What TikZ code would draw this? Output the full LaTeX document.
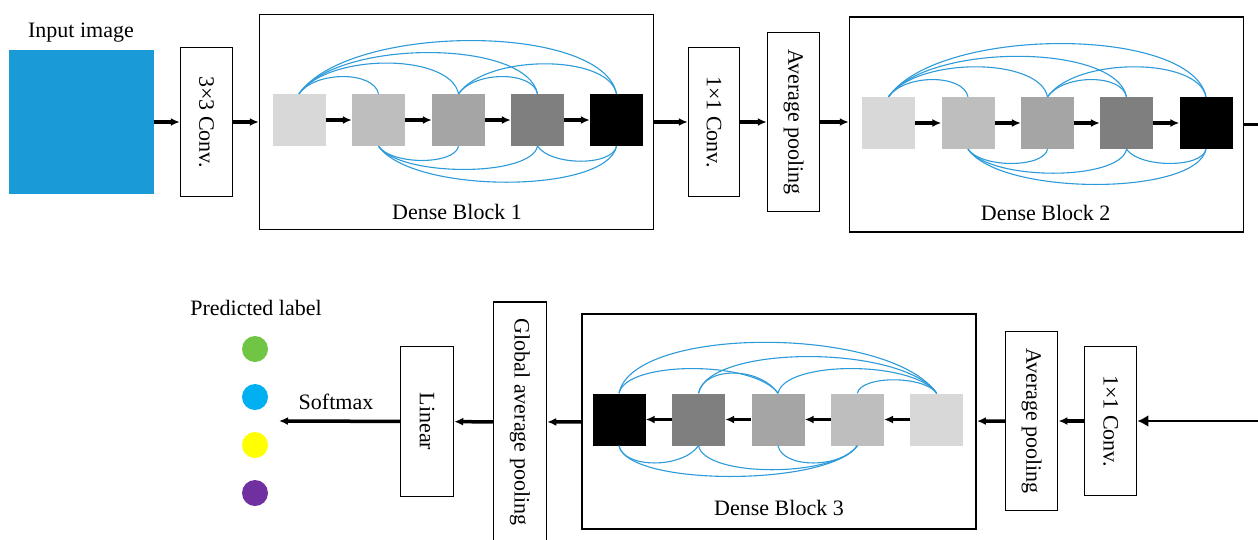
\documentclass[tikz,border=0pt]{standalone}
\usepackage{fontspec}
\setmainfont{Liberation Serif}
\usetikzlibrary{arrows.meta}
\definecolor{inblue}{RGB}{26,154,214}
\definecolor{arcblue}{RGB}{45,155,218}
\definecolor{ga}{RGB}{216,216,216}
\definecolor{gb}{RGB}{190,190,190}
\definecolor{gc}{RGB}{165,165,165}
\definecolor{gd}{RGB}{127,127,127}
\definecolor{cgreen}{RGB}{112,198,68}
\definecolor{ccyan}{RGB}{0,176,240}
\definecolor{cyell}{RGB}{255,255,0}
\definecolor{cpurp}{RGB}{112,48,160}
% #1 node prefix, #2 direction (+1 right, -1 left), #3 list s/t/h
\newcommand{\toparcs}[3]{%
  \foreach \s/\t/\h in {#3}
    \draw[link] (#1\s.north) .. controls +({#2*0.7*\h},-\h) and +({-#2*0.2*\h},-\h) .. (#1\t.north);}
\newcommand{\botarcs}[3]{%
  \foreach \s/\t/\h in {#3}
    \draw[link] (#1\s.south) .. controls +({#2*0.7*\h},\h) and +({-#2*0.2*\h},\h) .. (#1\t.south);}
\begin{document}
\begin{tikzpicture}[x=1pt,y=-1pt,
  font=\fontsize{22}{26}\selectfont,
  box/.style={draw=black,line width=1.5pt,inner sep=0pt,fill=white},
  blk/.style={box,minimum width=394pt,minimum height=215pt},
  sq/.style={inner sep=0pt,minimum width=53pt,minimum height=52pt},
  arr/.style={line width=3.5pt,-{Latex[length=9pt,width=8pt]}},
  arrbig/.style={line width=2pt,-{Latex[length=11pt,width=12pt]}},
  plain/.style={line width=3.5pt},
  link/.style={draw=arcblue,line width=1.1pt},
  dot/.style={circle,inner sep=0pt,minimum size=26pt},
  txt/.style={inner sep=0pt}]
\useasboundingbox (0,0) rectangle (1258,539);

% ---------- top row ----------
\node[txt] (intext) at (81,33) {Input image};
\node[fill=inblue,inner sep=0pt,minimum width=145pt,minimum height=144pt] (inp) at (81.5,122) {};
\node[box,minimum width=52pt,minimum height=149pt] (conva) at (206.5,122) {\rotatebox{-90}{3×3 Conv.}};
\node[blk] (dba) at (456.5,122) {};
\node[txt] (dbalab) at (457,212) {Dense Block 1};
\node[box,minimum width=51pt,minimum height=149pt] (convb) at (714,122) {\rotatebox{-90}{1×1 Conv.}};
\node[box,minimum width=52pt,minimum height=179pt] (poola) at (793.5,122) {\rotatebox{-90}{Average pooling}};
\node[blk] (dbb) at (1046.5,124.5) {};
\node[txt] (dbblab) at (1045.7,213) {Dense Block 2};
\coordinate (rout) at (1264,124.5);

\foreach \i/\x/\c in {1/299/ga,2/378.5/gb,3/458.5/gc,4/537.5/gd,5/616.5/black}
  \node[sq,fill=\c] (a\i) at (\x,120) {};
\foreach \i/\x/\c in {1/888.5/ga,2/968/gb,3/1047.5/gc,4/1126.5/gd,5/1206/black}
  \node[sq,fill=\c] (b\i) at (\x,123) {};

\foreach \i/\j in {1/2,2/3,3/4,4/5} {
  \draw[arr] (a\i) -- (a\j);
  \draw[arr] (b\i) -- (b\j);
}
\toparcs{a}{1}{1/2/23,1/3/41,1/4/55,1/5/71,3/4/23,3/5/40}
\botarcs{a}{1}{2/3/19,2/4/31,2/5/48,4/5/20}
\toparcs{b}{1}{1/2/23,1/3/40,1/4/54,1/5/71,3/4/23,3/5/40}
\botarcs{b}{1}{2/3/19,2/4/32,2/5/47,4/5/19}

\draw[arr] (inp) -- (conva);
\draw[arr] (conva) -- (dba);
\draw[arr] (dba) -- (convb);
\draw[arr] (convb) -- (poola);
\draw[arr] (poola.east) -- (poola.east -| dbb.west);
\draw[plain] (dbb.east) -- (rout);

% ---------- bottom row ----------
\coordinate (rin) at (1264,421);
\node[box,minimum width=52pt,minimum height=149pt] (convc) at (1110.7,421) {\rotatebox{-90}{1×1 Conv.}};
\node[box,minimum width=52pt,minimum height=179pt] (poolb) at (1031.7,421) {\rotatebox{-90}{Average pooling}};
\node[blk] (dbc) at (779.2,421.3) {};
\node[txt] (dbclab) at (779,508) {Dense Block 3};
\node[box,minimum width=53pt,minimum height=240pt] (gap) at (520,422) {\rotatebox{-90}{Global average pooling}};
\node[box,minimum width=53pt,minimum height=150pt] (lin) at (427,421.5) {\rotatebox{-90}{Linear}};
\coordinate (smx) at (279,421);
\node[txt] (smlab) at (336,402) {Softmax};
\node[txt] (predlab) at (256,308) {Predicted label};
\node[dot,fill=cgreen] (p1) at (255,349) {};
\node[dot,fill=ccyan] (p2) at (255,397) {};
\node[dot,fill=cyell] (p3) at (255,445) {};
\node[dot,fill=cpurp] (p4) at (255,493) {};

\foreach \i/\x/\c in {1/936.7/ga,2/857.3/gb,3/778/gc,4/698.5/gd,5/619/black}
  \node[sq,fill=\c] (c\i) at (\x,419.5) {};
\foreach \i/\j in {1/2,2/3,3/4,4/5}
  \draw[arr] (c\i) -- (c\j);
\toparcs{c}{-1}{1/2/18,1/3/33,1/4/49,1/5/68,3/4/27,3/5/33}
\botarcs{c}{-1}{2/3/23,2/4/32,2/5/41,4/5/23}

\draw[arrbig] (rin) -- (convc);
\draw[arr] (convc) -- (poolb);
\draw[arr] (poolb) -- (dbc);
\draw[arr] (dbc) -- (gap);
\draw[arr] (gap) -- (lin);
\draw[arr] (lin) -- (smx);
\end{tikzpicture}
\end{document}
